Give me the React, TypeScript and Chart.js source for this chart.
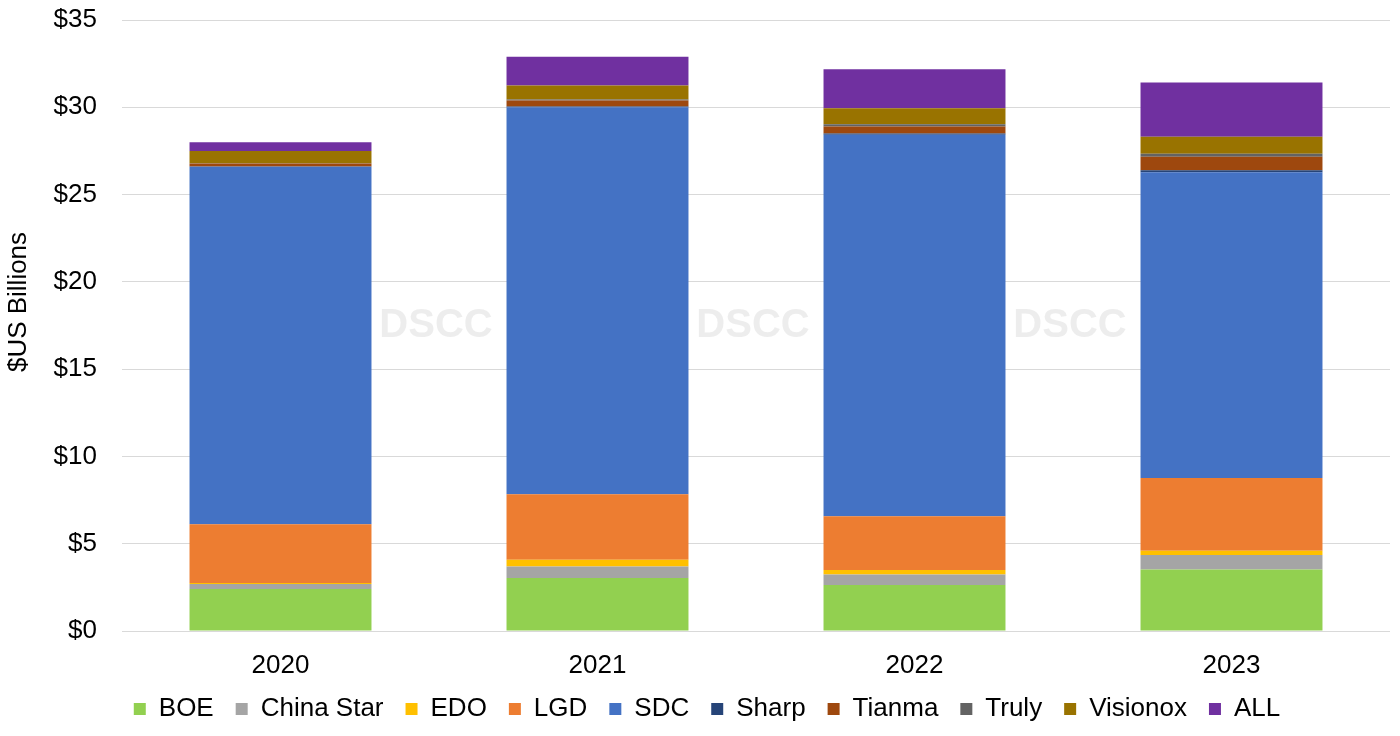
import React, { useEffect, useRef } from "react";
import { Chart, registerables } from "chart.js";

Chart.register(...registerables);

const years = ["2020", "2021", "2022", "2023"];
const boe = [2.4, 3.03, 2.63, 3.53];
const chinaStar = [0.29, 0.67, 0.61, 0.82];
const edo = [0.06, 0.38, 0.25, 0.25];
const lgd = [3.37, 3.76, 3.09, 4.16];
const sdc = [20.47, 22.16, 21.85, 17.52];
const sharp = [0.02, 0.05, 0.07, 0.11];
const tianma = [0.17, 0.34, 0.4, 0.78];
const truly = [0.02, 0.06, 0.13, 0.17];
const visionox = [0.69, 0.8, 0.92, 0.97];
const all = [0.51, 1.64, 2.23, 3.11];
const yTicks = [0, 5, 10, 15, 20, 25, 30, 35];

const seriesNames = ["BOE", "China Star", "EDO", "LGD", "SDC", "Sharp", "Tianma", "Truly", "Visionox", "ALL"];
const seriesValues = [boe, chinaStar, edo, lgd, sdc, sharp, tianma, truly, visionox, all];
const seriesColors = ["#92D050", "#A5A5A5", "#FFC000", "#ED7D31", "#4472C4", "#264478", "#9E480E", "#636363", "#997300", "#7030A0"];

const FONT = "'Liberation Sans', Arial, sans-serif";
const yTitle = "$US Billions";

const decor = {
  id: "decor",
  beforeLayout(chart: any) {
    const lg = chart.legend;
    if (lg && !lg.__patched) {
      const origFit = lg.fit.bind(lg);
      lg.fit = () => {
        origFit();
        lg.height = 59;
      };
      const origDraw = lg.draw.bind(lg);
      lg.draw = () => {
        const c = lg.ctx;
        c.save();
        c.translate(0, -3);
        origDraw();
        c.restore();
      };
      lg.__patched = true;
    }
  },
  afterDatasetsDraw(chart: any) {
    const { ctx, chartArea } = chart;
    const w = chartArea.right - chartArea.left;
    const cy = (chartArea.top + chartArea.bottom) / 2;
    ctx.save();
    ctx.font = `bold 40px ${FONT}`;
    ctx.fillStyle = "rgba(200,200,200,0.32)";
    ctx.textAlign = "center";
    ctx.textBaseline = "middle";
    for (let i = 1; i <= 3; i++) {
      ctx.fillText("DSCC", chartArea.left + (w * i) / 4 - 3, cy);
    }
    ctx.restore();
  },
  afterDraw(chart: any) {
    const { ctx } = chart;
    ctx.save();
    ctx.translate(19, 302);
    ctx.rotate(-Math.PI / 2);
    ctx.font = `26px ${FONT}`;
    ctx.fillStyle = "#000";
    ctx.textAlign = "center";
    ctx.textBaseline = "middle";
    ctx.fillText(yTitle, 0, 0);
    ctx.restore();
  },
};

export default function App() {
  const ref = useRef<HTMLCanvasElement>(null);
  useEffect(() => {
    if (!ref.current) return;
    const chart = new Chart(ref.current, {
      type: "bar",
      data: {
        labels: years,
        datasets: seriesNames.map((name, i) => ({
          label: name,
          data: seriesValues[i],
          backgroundColor: seriesColors[i],
          borderWidth: 0,
          categoryPercentage: 1,
          barPercentage: 0.574,
        })),
      },
      options: {
        responsive: false,
        animation: false,
        layout: { padding: { top: 20, right: 10, left: 24, bottom: 0 } },
        plugins: {
          legend: {
            position: "bottom",
            labels: {
              boxWidth: 12,
              boxHeight: 12,
              padding: 22,
              color: "#000",
              font: { family: FONT, size: 26 },
            },
          },
          tooltip: { enabled: false },
        },
        scales: {
          x: {
            stacked: true,
            grid: { display: false },
            border: { display: false },
            ticks: { color: "#000", font: { family: FONT, size: 26 }, padding: 11 },
            afterFit: (s: any) => {
              s.height = 46;
            },
          },
          y: {
            stacked: true,
            min: 0,
            max: 35,
            afterBuildTicks: (s: any) => {
              s.ticks = yTicks.map((v) => ({ value: v }));
            },
            afterFit: (s: any) => {
              s.width = 98;
            },
            grid: { color: "#d9d9d9", lineWidth: 1, drawTicks: true, tickLength: 25, tickColor: "rgba(0,0,0,0)" },
            border: { display: false },
            ticks: {
              color: "#000",
              font: { family: FONT, size: 26 },
              padding: 0,
              callback: (v: any) => "$" + v,
            },
          },
        },
      },
      plugins: [decor],
    });
    return () => chart.destroy();
  }, []);
  return (
    <div style={{ position: "fixed", left: 0, top: 0, width: 1400, height: 736, background: "#fff" }}>
      <canvas ref={ref} width={1400} height={736} />
    </div>
  );
}
